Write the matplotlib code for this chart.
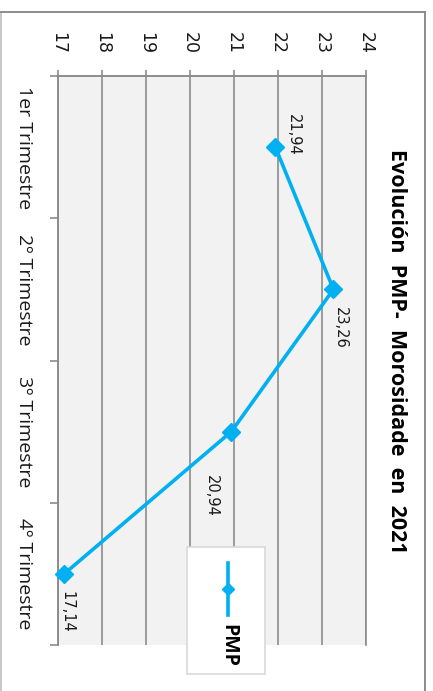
import matplotlib
matplotlib.use("Agg")
import matplotlib.pyplot as plt
from matplotlib.patches import Rectangle
from matplotlib.lines import Line2D

categories = ["1er Trimestre", "2º Trimestre", "3º Trimestre", "4º Trimestre"]
values = [21.94, 23.26, 20.94, 17.14]
value_labels = ["21,94", "23,26", "20,94", "17,14"]
value_ticks = [17, 18, 19, 20, 21, 22, 23, 24]
series_name = "PMP"
title = "Evolución  PMP-  Morosidade  en  2021"

W, H = 433, 691
DPI = 100
fig = plt.figure(figsize=(W / DPI, H / DPI), dpi=DPI)
fig.patch.set_facecolor("white")

GRID = "#8C8C8C"
BLUE = "#00B0F0"

# outer chart border
fig.add_artist(Line2D([0.5 / W, 0.5 / W], [0, 1 - 12 / H],
                      transform=fig.transFigure, color="#BFBFBF", lw=1.2))
fig.add_artist(Line2D([0.5 / W, 425 / W], [1 - 12 / H, 1 - 12 / H],
                      transform=fig.transFigure, color="#8C8C8C", lw=1.4))
fig.add_artist(Line2D([425 / W, 425 / W], [0, 1 - 12 / H],
                      transform=fig.transFigure, color="#8C8C8C", lw=1.4))

left, right, top, bottom = 58, 366, 76, 645
ax = fig.add_axes([left / W, 1 - bottom / H, (right - left) / W, (bottom - top) / H])
ax.set_facecolor("#F2F2F2")

pos = [i + 0.5 for i in range(len(categories))]
ax.plot(values, pos, color=BLUE, lw=2.6, marker="D", markersize=9.5,
        markerfacecolor=BLUE, markeredgecolor=BLUE, zorder=5, clip_on=False)

ax.set_xlim(17, 24)
ax.set_ylim(len(categories), 0)

# value axis on top
ax.xaxis.tick_top()
ax.set_xticks(value_ticks)
ax.set_xticklabels([str(v) for v in value_ticks], rotation=-90,
                   fontsize=12.5, family="DejaVu Sans", color="#1a1a1a")
ax.tick_params(axis="x", which="major", direction="out", length=4, width=1.2,
               color=GRID, pad=12)
for lab in ax.get_xticklabels():
    lab.set_va("bottom")
    lab.set_ha("center")

# category axis on left
ax.set_yticks(range(len(categories) + 1))
ax.set_yticklabels([])
ax.set_yticks(pos, minor=True)
ax.set_yticklabels(categories, minor=True, rotation=-90, fontsize=14,
                   family="Open Sans", color="#1a1a1a", va="center", ha="right")
ax.tick_params(axis="y", which="major", direction="out", length=6, width=1.2,
               color=GRID)
ax.tick_params(axis="y", which="minor", length=0, pad=18)

ax.grid(axis="x", color=GRID, lw=1.2)
ax.set_axisbelow(True)
ax.spines["bottom"].set_visible(False)
ax.spines["right"].set_color(GRID)
ax.spines["right"].set_linewidth(1.2)
ax.spines["left"].set_color(GRID)
ax.spines["left"].set_linewidth(1.4)
ax.spines["top"].set_color(GRID)
ax.spines["top"].set_linewidth(1.4)

# data labels (offsets in points)
offsets = [(13, 8.5), (5, -27.5), (-14.5, -46), (2, -27.5)]
for v, p, lab, off in zip(values, pos, value_labels, offsets):
    ax.annotate(lab, (v, p), xytext=off, textcoords="offset points",
                rotation=-90, ha="center", va="center", fontsize=10.5,
                family="DejaVu Sans", color="#1a1a1a", zorder=6)

# title
fig.text(396 / W, 1 - 351 / H, title, rotation=-90, ha="center", va="center",
         fontsize=15.5, fontweight="bold", family="Open Sans", color="black")

# legend (rotated)
fig.add_artist(Rectangle((187 / W, 1 - 674 / H), (265 - 187) / W, (674 - 547) / H,
                         transform=fig.transFigure, facecolor="white",
                         edgecolor="#D9D9D9", lw=1.2, zorder=10))
fig.add_artist(Line2D([228 / W, 228 / W], [1 - 563 / H, 1 - 615 / H],
                      transform=fig.transFigure, color=BLUE, lw=2.6, zorder=11))
fig.add_artist(Line2D([228 / W], [1 - 589 / H], transform=fig.transFigure,
                      color=BLUE, marker="D", markersize=6, lw=0, zorder=11))
fig.text(228 / W, 1 - 645 / H, series_name, rotation=-90, ha="center", va="center",
         fontsize=14, fontweight="bold", family="Open Sans", color="black", zorder=12)

fig.savefig("out.png", dpi=DPI)
